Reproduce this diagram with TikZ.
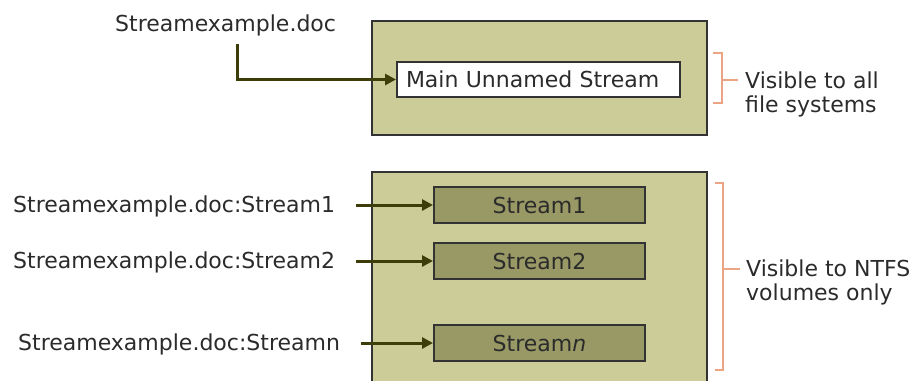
\documentclass[tikz,border=0pt]{standalone}
\usepackage{fontspec}
\setmainfont{DejaVu Sans}
\usepackage{tikz}
\usetikzlibrary{calc,arrows.meta}

\definecolor{boxfill}{HTML}{CCCC99}
\definecolor{streamfill}{HTML}{999966}
\definecolor{edgecol}{HTML}{333333}
\definecolor{feedcol}{HTML}{3D3D0A}
\definecolor{bracecol}{HTML}{EBA585}
\definecolor{textcol}{HTML}{2B2B2B}

\begin{document}
\begin{tikzpicture}[x=1pt,y=-1pt,
  every node/.style={font=\fontsize{22}{24}\selectfont, text=textcol, inner sep=0pt},
  volume/.style={draw=edgecol, line width=2pt, fill=boxfill, minimum width=335pt},
  mainbox/.style={draw=edgecol, line width=2pt, fill=white, minimum height=35pt,
    text width=265pt, inner xsep=9pt, align=left},
  stream/.style={draw=edgecol, line width=2pt, fill=streamfill,
    minimum width=211pt, minimum height=36pt},
  feed/.style={draw=feedcol, line width=3pt, -{Triangle[length=11pt,width=11pt]}},
  brace/.style={draw=bracecol, line width=1.5pt}]
\useasboundingbox (0,0) rectangle (912,380);
\clip (0,0) rectangle (912,380);

%%% FILE AS SEEN BY ALL FILE SYSTEMS
\node[volume, minimum height=114pt] (vol) at (539.5,78) {};
\node[mainbox, anchor=west] (main) at (396,79.5) {Main Unnamed Stream};
\node[anchor=base west] (doc) at (115,31) {Streamexample.doc};

% arrow drops from the file name, then turns right
\coordinate (t0) at ([xshift=12pt,yshift=-8pt]doc.south);
\draw[feed] (t0) |- (main);

%%% FILE AS SEEN BY NTFS
\node[volume, minimum height=240pt, anchor=north] (ntfs) at (539.5,171) {};

% one row per stream: box, name, arrow
\foreach \k/\yc/\lx/\suffix in {1/205/13/1, 2/261/13/2, n/343/18/\textit{n}}
{
\node[stream] (s\k) at (539.5,\yc) {Stream\suffix};
\node[anchor=base west] (lbl\k) at (\lx,\yc+7) {Streamexample.doc:Stream\k};
\coordinate (t\k) at ([xshift=21pt]lbl\k.east);
\draw[feed] (t\k |- s\k) -- (s\k);
}

%%% BRACKETS
\draw[brace] (713,53) -- (722,53) -- (722,103) -- (713,103);
\draw[brace] (722,80) -- (738,80);
\node[anchor=north west, align=left] (allfs) at (745,71.3) {Visible to all\\file systems};

\draw[brace] (715,183) -- (723,183) -- (723,370) -- (715,370);
\draw[brace] (723,269) -- (740,269);
\node[anchor=north west, align=left] (ntfsonly) at (746,259.3) {Visible to NTFS\\volumes only};
\end{tikzpicture}
\end{document}
